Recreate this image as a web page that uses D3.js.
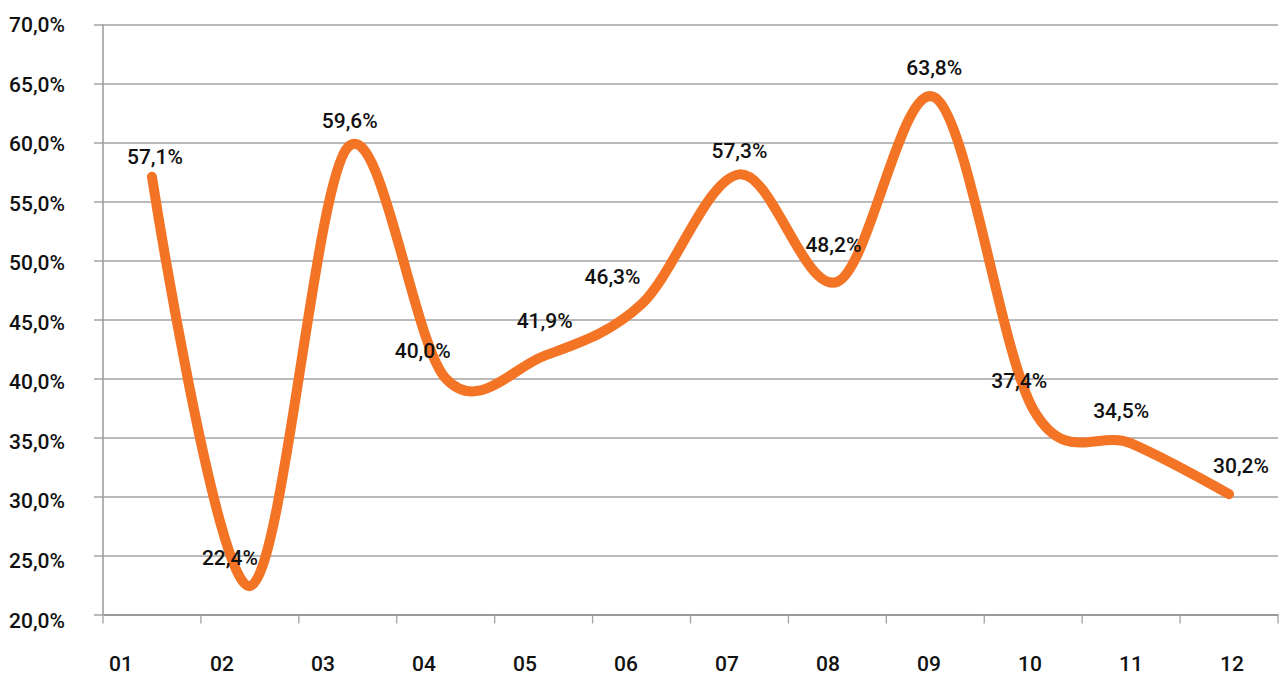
<!DOCTYPE html>
<html><head><meta charset="utf-8">
<script src="https://cdn.jsdelivr.net/npm/d3@7"></script>
<style>
html,body{margin:0;padding:0;background:#fff;}
svg text{font-family:Roboto,"DejaVu Sans Condensed",sans-serif;font-weight:500;fill:#111;}
</style></head>
<body>
<svg id="chart" width="1281" height="675"></svg>
<script>
const categories = ["01","02","03","04","05","06","07","08","09","10","11","12"];
const values = [57.1, 22.4, 59.6, 40.0, 41.9, 46.3, 57.3, 48.2, 63.8, 37.4, 34.5, 30.2];
const yTicks = [20,25,30,35,40,45,50,55,60,65,70];
// nudges for the data labels (in px), as placed in the original
const labelDx = [3, -20, 2, -23, 1, -29, 0, -4, -1, -14, -10, 12];
const labelDy = [-20, -29, -27, -28, -36, -28, -24, -37, -30, -29, -33, -29];

(function () {
const svg = d3.select("#chart");
const L = 103, R = 1278, T = 24.5, B = 614.5;

const x = d3.scaleBand().domain(categories).range([L, R]).padding(0);
const y = d3.scaleLinear().domain([20, 70]).range([B, T]);
const yLab = d3.scaleLinear().domain([20, 70]).range([B + 5.5, T]);
const xLab = d3.scalePoint().domain(categories).range([121, 1232]);
const fmt = v => v.toFixed(1).replace(".", ",") + "%";

// gridlines + y ticks
const yAxis = d3.axisLeft(y).tickValues(yTicks).tickSize(-(R - L)).tickSizeOuter(0).tickFormat(() => "");
const gy = svg.append("g").attr("transform", `translate(${L},0)`).call(yAxis);
gy.select(".domain").remove();
gy.selectAll(".tick line").attr("stroke", "#a3a3a3").attr("stroke-width", 1.3).attr("x1", -9);

// y labels
svg.append("g").selectAll("text").data(yTicks).join("text")
  .attr("x", 65).attr("y", d => yLab(d)).attr("dy", "0.36em")
  .attr("text-anchor", "end").attr("font-size", 21)
  .text(d => fmt(d));

// y axis line
svg.append("line").attr("x1", L).attr("x2", L).attr("y1", T).attr("y2", B)
  .attr("stroke", "#999").attr("stroke-width", 1.5);

// x axis
const xAxis = d3.axisBottom(x).tickSize(0).tickFormat(() => "");
const gx = svg.append("g").attr("transform", `translate(0,${B})`).call(xAxis);
gx.select(".domain").attr("stroke", "#999").attr("stroke-width", 1.8);
const bounds = categories.map(c => x(c)).concat([R]);
svg.append("g").selectAll("line").data(bounds).join("line")
  .attr("x1", d => d).attr("x2", d => d).attr("y1", B).attr("y2", B + 9)
  .attr("stroke", "#a3a3a3").attr("stroke-width", 1.3);

svg.append("g").selectAll("text").data(categories).join("text")
  .attr("x", d => xLab(d)).attr("y", 663).attr("dy", "0.36em")
  .attr("text-anchor", "middle").attr("font-size", 21)
  .text(d => d);

// line
const pts = categories.map((c, i) => [x(c) + x.bandwidth() / 2, y(values[i])]);
svg.append("path").attr("d", d3.line().curve(d3.curveCardinal.tension(0))(pts))
  .attr("fill", "none").attr("stroke", "#f47426").attr("stroke-width", 10)
  .attr("stroke-linecap", "round").attr("stroke-linejoin", "round");

// data labels
svg.append("g").selectAll("text").data(values).join("text")
  .attr("x", (d, i) => pts[i][0] + labelDx[i])
  .attr("y", (d, i) => pts[i][1] + labelDy[i]).attr("dy", "0.36em")
  .attr("text-anchor", "middle").attr("font-size", 21)
  .text(d => fmt(d));
})();
</script>
</body></html>
